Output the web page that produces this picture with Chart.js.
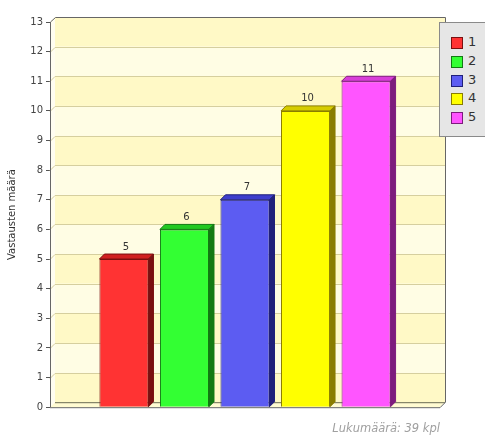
<!DOCTYPE html>
<html>
<head>
<meta charset="utf-8">
<script src="https://cdn.jsdelivr.net/npm/chart.js@4.4.1/dist/chart.umd.min.js"></script>
<style>
  body { margin: 0; background: #fff; overflow: hidden; }
  #wrap { position: relative; width: 485px; height: 437px; }
  #legend {
    position: absolute; left: 439px; top: 22px; width: 60px; height: 115px;
    background: #e6e6e6; border: 1px solid #8a8a8a; box-sizing: border-box;
    font: 13px "DejaVu Sans", sans-serif; color: #333;
  }
  .item { position: absolute; left: 11px; height: 14px; line-height: 14px; }
  .item i {
    position: absolute; left: 0; top: 1px; width: 10px; height: 10px;
    border: 1px solid #333;
  }
  .item span { position: absolute; left: 17px; top: -1px; }
</style>
</head>
<body>
<div id="wrap">
  <canvas id="kaavio" width="485" height="437"></canvas>
  <div id="legend"></div>
</div>
<script>
// ---- data ----
const vastaukset = ['1', '2', '3', '4', '5'];
const maarat = [5, 6, 7, 10, 11];
const yTicks = [0, 1, 2, 3, 4, 5, 6, 7, 8, 9, 10, 11, 12, 13];

// ---- värit ----
const etuVarit = ['#ff3333', '#33ff33', '#5c5cf2', '#ffff00', '#ff55ff'];
const kansiVarit = ['#d02020', '#22c822', '#3e3ecc', '#d6cc00', '#d83ed8'];
const sivuVarit = ['#7a1010', '#137a13', '#20207a', '#8a7d00', '#7d1c7d'];

const SYVYYS = 5;

// 3D-laatikko: takaseinä, lattia, vaakaraidat ja ruudukko
const seinaPlugin = {
    id: 'seina',
    beforeDatasetsDraw(chart) {
        const ctx = chart.ctx;
        const a = chart.chartArea;
        const y = chart.scales.y;
        const d = SYVYYS;
        ctx.save();

        // vasen sivuseinä
        ctx.fillStyle = '#fffdf0';
        ctx.beginPath();
        ctx.moveTo(a.left, a.top);
        ctx.lineTo(a.left + d, a.top - d);
        ctx.lineTo(a.left + d, a.bottom - d);
        ctx.lineTo(a.left, a.bottom);
        ctx.closePath();
        ctx.fill();

        // takaseinän raidat
        for (let i = 0; i < yTicks.length - 1; i++) {
            const y0 = y.getPixelForValue(yTicks[i]) - d;
            const y1 = y.getPixelForValue(yTicks[i + 1]) - d;
            ctx.fillStyle = (i % 2 === 0) ? '#fff9c6' : '#fffde4';
            ctx.fillRect(a.left + d, y1, a.right - a.left, y0 - y1);
        }

        // ruudukko
        ctx.strokeStyle = '#d6cf9e';
        ctx.lineWidth = 1;
        yTicks.forEach(t => {
            if (t === 0 || t === yTicks[yTicks.length - 1]) return;
            const py = Math.round(y.getPixelForValue(t)) + 0.5;
            ctx.beginPath();
            ctx.moveTo(a.left, py);
            ctx.lineTo(a.left + d, py - d);
            ctx.lineTo(a.right + d, py - d);
            ctx.stroke();
        });

        // lattia
        ctx.fillStyle = '#fffbd2';
        ctx.strokeStyle = '#6b6b50';
        ctx.beginPath();
        ctx.moveTo(a.left, a.bottom);
        ctx.lineTo(a.left + d, a.bottom - d);
        ctx.lineTo(a.right + d, a.bottom - d);
        ctx.lineTo(a.right, a.bottom);
        ctx.closePath();
        ctx.fill();
        ctx.beginPath();
        ctx.moveTo(a.left + d, a.bottom - d + 0.5);
        ctx.lineTo(a.right + d, a.bottom - d + 0.5);
        ctx.stroke();

        // ääriviiva
        ctx.strokeStyle = '#666';
        ctx.beginPath();
        ctx.moveTo(a.left + 0.5, a.bottom);
        ctx.lineTo(a.left + 0.5, a.top);
        ctx.lineTo(a.left + d + 0.5, a.top - d + 0.5);
        ctx.lineTo(a.right + d + 0.5, a.top - d + 0.5);
        ctx.lineTo(a.right + d + 0.5, a.bottom - d);
        ctx.lineTo(a.right, a.bottom + 0.5);
        ctx.lineTo(a.left, a.bottom + 0.5);
        ctx.stroke();
        ctx.restore();
    },
    afterDatasetsDraw(chart) {
        const ctx = chart.ctx;
        const d = SYVYYS;
        ctx.save();
        chart.data.datasets.forEach((ds, i) => {
            const bar = chart.getDatasetMeta(i).data[0];
            if (!bar) return;
            const p = bar.getProps(['x', 'y', 'base', 'width'], true);
            const l = p.x - p.width / 2;
            const r = p.x + p.width / 2;

            // kansi
            ctx.fillStyle = kansiVarit[i];
            ctx.strokeStyle = sivuVarit[i];
            ctx.lineWidth = 1;
            ctx.beginPath();
            ctx.moveTo(l, p.y);
            ctx.lineTo(l + d, p.y - d);
            ctx.lineTo(r + d, p.y - d);
            ctx.lineTo(r, p.y);
            ctx.closePath();
            ctx.fill();
            ctx.stroke();

            // sivu
            ctx.fillStyle = sivuVarit[i];
            ctx.beginPath();
            ctx.moveTo(r, p.y);
            ctx.lineTo(r + d, p.y - d);
            ctx.lineTo(r + d, p.base - d);
            ctx.lineTo(r, p.base);
            ctx.closePath();
            ctx.fill();
            ctx.stroke();

            // arvo pylvään päällä
            ctx.fillStyle = '#333';
            ctx.font = '10px "DejaVu Sans", sans-serif';
            ctx.textAlign = 'center';
            ctx.textBaseline = 'middle';
            ctx.fillText(String(ds.data[0]), p.x + 2, p.y - 12);
        });
        ctx.restore();
    }
};

const datasets = vastaukset.map((nimi, i) => ({
    label: nimi,
    data: [maarat[i]],
    backgroundColor: etuVarit[i],
    borderColor: sivuVarit[i],
    borderWidth: 1,
    categoryPercentage: 0.776,
    barPercentage: 0.81
}));

const chart = new Chart(document.getElementById('kaavio'), {
    type: 'bar',
    data: { labels: [''], datasets },
    options: {
        responsive: false,
        animation: false,
        layout: { padding: { top: 22, right: 45, left: 0, bottom: 0 } },
        plugins: {
            legend: { display: false },
            tooltip: { enabled: false },
            title: {
                display: true,
                position: 'bottom',
                align: 'end',
                text: 'Lukumäärä: 39 kpl',
                color: '#a0a0a0',
                font: { size: 11.5, style: 'italic', family: '"DejaVu Sans", sans-serif', weight: 'normal' },
                padding: { top: 15, bottom: 1 }
            }
        },
        scales: {
            x: { display: false },
            y: {
                min: 0,
                max: 13,
                afterFit(scale) { scale.width = 50; },
                afterBuildTicks(scale) { scale.ticks = yTicks.map(v => ({ value: v })); },
                ticks: {
                    color: '#444',
                    padding: 3,
                    font: { size: 10, family: '"DejaVu Sans", sans-serif' }
                },
                grid: { drawOnChartArea: false, tickLength: 4, color: '#555' },
                border: { display: false },
                title: {
                    display: true,
                    text: 'Vastausten määrä',
                    color: '#333',
                    font: { size: 10, family: '"DejaVu Sans", sans-serif' },
                    padding: { top: 6, bottom: 0 }
                }
            }
        }
    },
    plugins: [seinaPlugin]
});

// selite
const selite = document.getElementById('legend');
chart.data.datasets.forEach((ds, i) => {
    const rivi = document.createElement('div');
    rivi.className = 'item';
    rivi.style.top = (13 + i * 18.8) + 'px';
    rivi.innerHTML = '<i style="background:' + ds.backgroundColor + ';border-color:' + ds.borderColor + '"></i><span>' + ds.label + '</span>';
    selite.appendChild(rivi);
});
</script>
</body>
</html>
